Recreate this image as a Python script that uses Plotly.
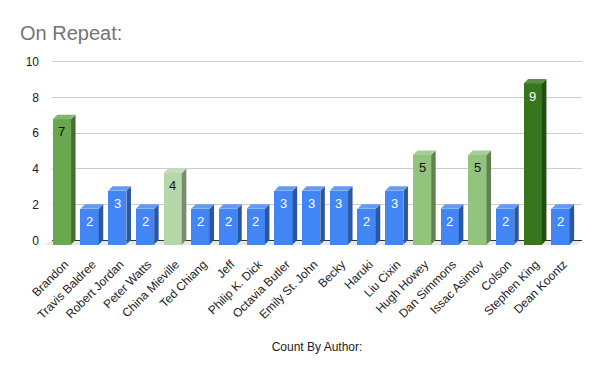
import plotly.graph_objects as go

# ---- data ----
authors = ["Brandon", "Travis Baldree", "Robert Jordan", "Peter Watts", "China Mieville",
           "Ted Chiang", "Jeff", "Philip K. Dick", "Octavia Butler", "Emily St. John",
           "Becky", "Haruki", "Liu Cixin", "Hugh Howey", "Dan Simmons", "Issac Asimov",
           "Colson", "Stephen King", "Dean Koontz"]
counts = [7, 2, 3, 2, 4, 2, 2, 2, 3, 3, 3, 2, 3, 5, 2, 5, 2, 9, 2]
bar_colors = ["#6AA84F", "#4285F4", "#4285F4", "#4285F4", "#B6D7A8",
              "#4285F4", "#4285F4", "#4285F4", "#4285F4", "#4285F4",
              "#4285F4", "#4285F4", "#4285F4", "#93C47D", "#4285F4", "#93C47D",
              "#4285F4", "#38761D", "#4285F4"]
label_colors = ["#111111", "#ffffff", "#ffffff", "#ffffff", "#111111",
                "#ffffff", "#ffffff", "#ffffff", "#ffffff", "#ffffff",
                "#ffffff", "#ffffff", "#ffffff", "#111111", "#ffffff", "#111111",
                "#ffffff", "#ffffff", "#ffffff"]
y_ticks = [0, 2, 4, 6, 8, 10]

# ---- geometry (pixels); OFF compensates the page's default body margin ----
OFF = 8
W, H = 600, 371
PL, PR, PT, PB = 52 - OFF, 582 - OFF, 50 - OFF, 247 - OFF   # plot area
UNIT = 17.9                                # px per count
GRID0 = 240.5 - OFF                        # pixel of 0 on grid axis
BAR0 = 244.5 - OFF                         # pixel of 0 on bar (front) axis
STEP = 27.7                                # px per category
C0 = 61.9 - OFF                            # px of first category centre
BARW = 18.3
DEPTH = 4.5


def shade(hexc, f):
    h = hexc.lstrip("#")
    r, g, b = (int(h[i:i + 2], 16) for i in (0, 2, 4))
    if f < 1:
        r, g, b = (int(c * f) for c in (r, g, b))
    else:
        t = f - 1
        r, g, b = (int(c + (255 - c) * t) for c in (r, g, b))
    return "#%02x%02x%02x" % (r, g, b)


x_range = [(PL - C0) / STEP, (PR - C0) / STEP]
y_grid_range = [(GRID0 - PB) / UNIT, (GRID0 - PT) / UNIT]
y_bar_range = [(BAR0 - PB) / UNIT, (BAR0 - PT) / UNIT]
d = DEPTH / UNIT
hw = BARW / 2
xs = list(range(len(authors)))

fig = go.Figure()
fig.add_trace(go.Bar(
    x=xs, y=counts, yaxis="y2",
    width=BARW / STEP,
    marker=dict(color=bar_colors, line=dict(width=0)),
    hoverinfo="skip", showlegend=False,
))

shapes = []
# floor
shapes.append(dict(type="path", xref="paper", yref="y", xsizemode="pixel", xanchor=0,
                   path="M -1,0 L %f,0 L %f,%f L %f,%f Z" % (PR - PL, PR - PL - DEPTH, -d, -1 - DEPTH - 1.5, -d),
                   fillcolor="#e8e8e8", line=dict(width=0), layer="below"))
for i, (v, c) in enumerate(zip(counts, bar_colors)):
    # side face
    shapes.append(dict(type="path", xref="x", yref="y2", xsizemode="pixel", xanchor=i,
                       path="M %f,0 L %f,%f L %f,%f L %f,%f Z" % (hw, hw + DEPTH, d, hw + DEPTH, v + d, hw, v),
                       fillcolor=shade(c, 0.66), line=dict(width=0), layer="above"))
    # top face
    shapes.append(dict(type="path", xref="x", yref="y2", xsizemode="pixel", xanchor=i,
                       path="M %f,%f L %f,%f L %f,%f L %f,%f Z" % (-hw, v, hw, v, hw + DEPTH, v + d, -hw + DEPTH, v + d),
                       fillcolor=shade(c, 1.18), line=dict(width=0), layer="above"))

annotations = [dict(x=i, y=v, xref="x", yref="y2", text=str(v), showarrow=False,
                    xanchor="center", yanchor="middle", yshift=-12.7,
                    font=dict(family="Arial, Liberation Sans", size=13, color=lc))
               for i, v, lc in zip(xs, counts, label_colors)]

fig.update_layout(
    width=W, height=H,
    margin=dict(l=PL, r=W - PR, t=PT, b=H - PB, pad=0),
    paper_bgcolor="white", plot_bgcolor="white",
    font=dict(family="Arial, Liberation Sans", size=12, color="#222222"),
    title=dict(text="On Repeat:", x=(20 - OFF) / W, xref="container", xanchor="left",
               y=1 - (33 - OFF) / H, yref="container", yanchor="middle",
               font=dict(size=20, color="#757575")),
    xaxis=dict(range=x_range, tickmode="array", tickvals=xs,
               ticktext=authors, tickangle=-45, showgrid=False, zeroline=False,
               showline=False, ticks="", tickfont=dict(size=12, color="#222222"),
               ticklabelstandoff=7, ticklabelshift=3,
               title=dict(text="Count By Author:", standoff=21,
                          font=dict(size=12, color="#222222")),
               automargin=False, fixedrange=True),
    yaxis=dict(range=y_grid_range, tickmode="array", tickvals=y_ticks,
               showgrid=True, gridcolor="#cccccc", gridwidth=1,
               zeroline=True, zerolinecolor="#333333", zerolinewidth=1,
               showline=False, ticks="", ticklabelstandoff=12,
               tickfont=dict(size=12, color="#222222"), automargin=False, fixedrange=True),
    yaxis2=dict(range=y_bar_range, overlaying="y", side="left", visible=False,
                showgrid=False, zeroline=False, fixedrange=True),
    shapes=shapes,
    annotations=annotations,
    bargap=0,
)

fig.write_html("out.html")
